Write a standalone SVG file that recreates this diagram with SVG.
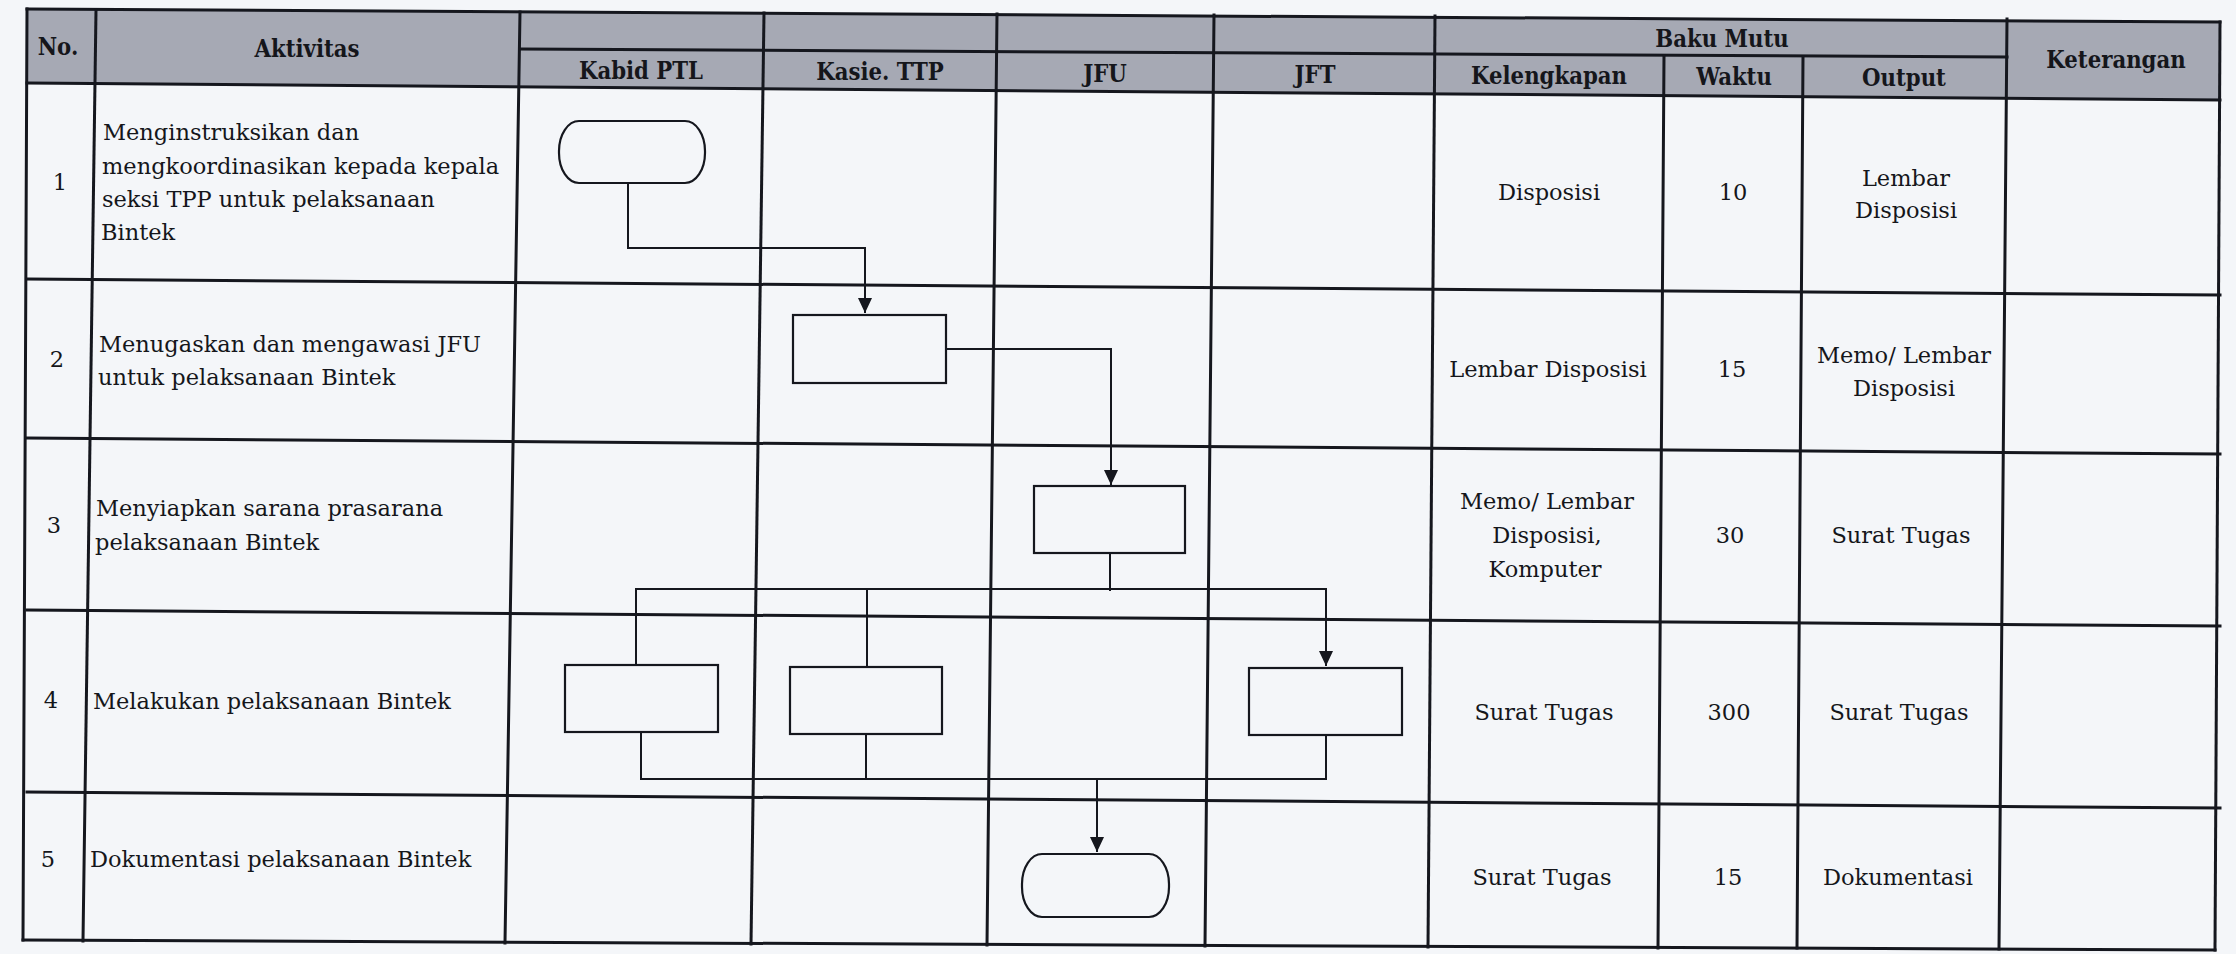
<svg xmlns="http://www.w3.org/2000/svg" width="2236" height="954" viewBox="0 0 2236 954">
<style>
.bg{fill:#f4f6f9}
.hdr{fill:#a6a9b4}
.grid line{stroke:#15171e;stroke-width:3;stroke-linecap:square}
.box{fill:none;stroke:#15171e;stroke-width:2.2}
.con{fill:none;stroke:#15171e;stroke-width:2}
.t{font-family:"DejaVu Serif","Liberation Serif",serif;font-size:22.5px;fill:#15161b}
.c{text-anchor:middle}
.h{font-family:"DejaVu Serif","Liberation Serif",serif;font-size:25px;font-weight:bold;fill:#15161b;text-anchor:middle}
</style>
<defs>
<marker id="arr" markerUnits="userSpaceOnUse" markerWidth="16" markerHeight="16" refX="15" refY="7" orient="auto">
<path d="M0,0 L15,7 L0,14 z" fill="#15171e"/>
</marker>
</defs>
<rect class="bg" x="0" y="0" width="2236" height="954"/>
<polygon class="hdr" points="27,9 2220,22 2220,100 27,83"/>
<g id="grid" class="grid">
<line x1="27" y1="9" x2="2220" y2="22"/>
<line x1="520" y1="49" x2="2007" y2="57"/>
<line x1="27" y1="83" x2="2220" y2="100"/>
<line x1="27" y1="279" x2="2220" y2="295"/>
<line x1="27" y1="438" x2="2220" y2="454"/>
<line x1="27" y1="610" x2="2220" y2="626"/>
<line x1="27" y1="792" x2="2220" y2="808"/>
<line x1="23" y1="940" x2="2215" y2="950"/>
<line x1="27" y1="9" x2="23" y2="940"/>
<line x1="96" y1="10" x2="83" y2="941"/>
<line x1="520" y1="12" x2="505" y2="943"/>
<line x1="764" y1="13" x2="751" y2="944"/>
<line x1="997" y1="14" x2="987" y2="945"/>
<line x1="1214" y1="15" x2="1205" y2="946"/>
<line x1="1435" y1="16" x2="1428" y2="947"/>
<line x1="1664" y1="56" x2="1658" y2="948"/>
<line x1="1803" y1="57" x2="1797" y2="948"/>
<line x1="2007" y1="19" x2="1999" y2="949"/>
<line x1="2220" y1="22" x2="2215" y2="950"/>
</g>
<g id="header">
<text class="h" transform="translate(58,55) scale(0.85,1)">No.</text>
<text class="h" transform="translate(307,57) scale(0.85,1)">Aktivitas</text>
<text class="h" transform="translate(641,79) scale(0.85,1)">Kabid PTL</text>
<text class="h" transform="translate(880,80) scale(0.85,1)">Kasie. TTP</text>
<text class="h" transform="translate(1105,82) scale(0.85,1)">JFU</text>
<text class="h" transform="translate(1315,83) scale(0.85,1)">JFT</text>
<text class="h" transform="translate(1722,47) scale(0.85,1)">Baku Mutu</text>
<text class="h" transform="translate(1549,84) scale(0.85,1)">Kelengkapan</text>
<text class="h" transform="translate(1734,85) scale(0.85,1)">Waktu</text>
<text class="h" transform="translate(1904,86) scale(0.85,1)">Output</text>
<text class="h" transform="translate(2116,68) scale(0.85,1)">Keterangan</text>
</g>
<g id="rows">
<g id="row1">
<text class="t c" x="60" y="190">1</text>
<text class="t" x="103" y="140">Menginstruksikan dan</text>
<text class="t" x="102" y="174">mengkoordinasikan kepada kepala</text>
<text class="t" x="102" y="207">seksi TPP untuk pelaksanaan</text>
<text class="t" x="101" y="240">Bintek</text>
<text class="t c" x="1549" y="200">Disposisi</text>
<text class="t c" x="1733" y="200">10</text>
<text class="t c" x="1906" y="186">Lembar</text>
<text class="t c" x="1906" y="218">Disposisi</text>
</g>
<g id="row2">
<text class="t c" x="57" y="367">2</text>
<text class="t" x="99" y="352">Menugaskan dan mengawasi JFU</text>
<text class="t" x="98" y="385">untuk pelaksanaan Bintek</text>
<text class="t c" x="1548" y="377">Lembar Disposisi</text>
<text class="t c" x="1732" y="377">15</text>
<text class="t c" x="1904" y="363">Memo/ Lembar</text>
<text class="t c" x="1904" y="396">Disposisi</text>
</g>
<g id="row3">
<text class="t c" x="54" y="533">3</text>
<text class="t" x="96" y="516">Menyiapkan sarana prasarana</text>
<text class="t" x="95" y="550">pelaksanaan Bintek</text>
<text class="t c" x="1547" y="509">Memo/ Lembar</text>
<text class="t c" x="1547" y="543">Disposisi,</text>
<text class="t c" x="1545" y="577">Komputer</text>
<text class="t c" x="1730" y="543">30</text>
<text class="t c" x="1901" y="543">Surat Tugas</text>
</g>
<g id="row4">
<text class="t c" x="51" y="708">4</text>
<text class="t" x="93" y="709">Melakukan pelaksanaan Bintek</text>
<text class="t c" x="1544" y="720">Surat Tugas</text>
<text class="t c" x="1729" y="720">300</text>
<text class="t c" x="1899" y="720">Surat Tugas</text>
</g>
<g id="row5">
<text class="t c" x="48" y="867">5</text>
<text class="t" x="90" y="867">Dokumentasi pelaksanaan Bintek</text>
<text class="t c" x="1542" y="885">Surat Tugas</text>
<text class="t c" x="1728" y="885">15</text>
<text class="t c" x="1898" y="885">Dokumentasi</text>
</g>
</g>
<g id="connectors">
<path class="con" d="M628,183 V248 H865 V313" marker-end="url(#arr)"/>
<path class="con" d="M946,349 H1111 V485" marker-end="url(#arr)"/>
<path class="con" d="M1110,553 V591"/>
<path class="con" d="M636,665 V589 H1326 V666" marker-end="url(#arr)"/>
<path class="con" d="M867,590 V667"/>
<path class="con" d="M641,732 V779 H1326 V735"/>
<path class="con" d="M866,734 V779"/>
<path class="con" d="M1097,780 V852" marker-end="url(#arr)"/>
</g>
<g id="nodes">
<g id="start"><rect class="box" x="559" y="121" width="146" height="62" rx="20" ry="30"/></g>
<g id="kasie-tugaskan"><rect class="box" x="793" y="315" width="153" height="68"/></g>
<g id="jfu-siapkan"><rect class="box" x="1034" y="486" width="151" height="67"/></g>
<g id="kabid-laksana"><rect class="box" x="565" y="665" width="153" height="67"/></g>
<g id="kasie-laksana"><rect class="box" x="790" y="667" width="152" height="67"/></g>
<g id="jft-laksana"><rect class="box" x="1249" y="668" width="153" height="67"/></g>
<g id="end"><rect class="box" x="1022" y="854" width="147" height="63" rx="20" ry="30"/></g>
</g>
</svg>
